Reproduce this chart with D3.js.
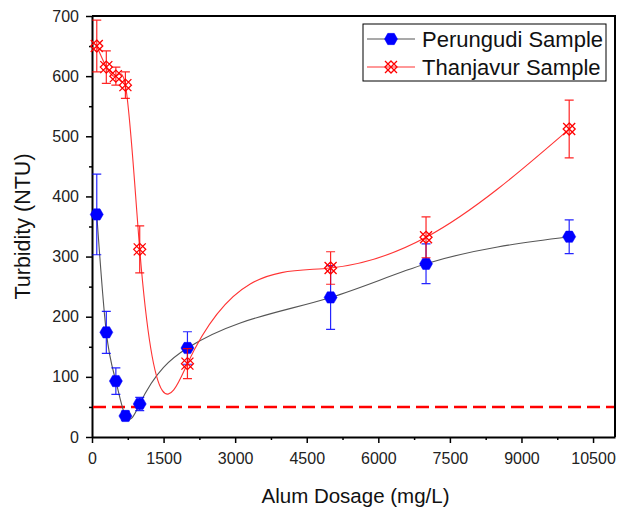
<!DOCTYPE html>
<html>
<head>
<meta charset="utf-8">
<script src="https://cdn.jsdelivr.net/npm/d3@7"></script>
<style>
  body { margin: 0; background: #fff; }
  svg { font-family: "Liberation Sans", Arial, sans-serif; }
</style>
</head>
<body>
<div id="chart"></div>
<script>
// alum dosage (mg/L)
const dosage = [100, 300, 500, 700, 1000, 2000, 5000, 7000, 10000];

// turbidity (NTU) and std errors
const perungudi = [370, 174, 93, 35, 55, 148, 232, 288, 333];
const perungudiErr = [67, 35, 22, 8, 11, 27, 53, 33, 28];
const thanjavur = [650, 615, 600, 585, 312, 122, 281, 332, 512];
const thanjavurErr = [43, 27, 15, 22, 39, 25, 27, 34, 48];

const xTicks = [0, 1500, 3000, 4500, 6000, 7500, 9000, 10500];
const yTicks = [0, 100, 200, 300, 400, 500, 600, 700];
const limitLine = 50;

const W = 618, H = 511;
const m = { top: 16, right: 3, bottom: 74, left: 92 };

const svg = d3.select('#chart').append('svg')
  .attr('width', W).attr('height', H);

const x = d3.scaleLinear().domain([0, 10960]).range([m.left, W - m.right]);
const y = d3.scaleLinear().domain([0, 700]).range([H - m.bottom, m.top]);

//natural cubic spline y(x), drawn as exact bezier segments
function SplineX(context) { this._context = context; }
SplineX.prototype = {
  areaStart() { this._line = 0; },
  areaEnd() { this._line = NaN; },
  lineStart() { this._px = []; this._py = []; },
  point(a, b) { this._px.push(+a); this._py.push(+b); },
  lineEnd() {
    const X = this._px, Y = this._py, n = X.length - 1, c = this._context;
    if (n < 1) return;
    const h = [], M = new Array(n + 1).fill(0);
    for (let i = 0; i < n; i++) h.push(X[i + 1] - X[i]);
    // tridiagonal solve
    const a = [], b = [], cc = [], r = [];
    for (let i = 1; i < n; i++) {
      a.push(h[i - 1]); b.push(2 * (h[i - 1] + h[i])); cc.push(h[i]);
      r.push(6 * ((Y[i + 1] - Y[i]) / h[i] - (Y[i] - Y[i - 1]) / h[i - 1]));
    }
    const k = r.length;
    for (let i = 1; i < k; i++) {
      const w = a[i] / b[i - 1];
      b[i] -= w * cc[i - 1];
      r[i] -= w * r[i - 1];
    }
    if (k > 0) {
      M[k] = r[k - 1] / b[k - 1];
      for (let i = k - 2; i >= 0; i--) M[i + 1] = (r[i] - cc[i] * M[i + 2]) / b[i];
    }
    const s = [];
    for (let i = 0; i < n; i++) s.push((Y[i + 1] - Y[i]) / h[i] - h[i] * (2 * M[i] + M[i + 1]) / 6);
    s.push((Y[n] - Y[n - 1]) / h[n - 1] + h[n - 1] * (M[n - 1] + 2 * M[n]) / 6);
    c.moveTo(X[0], Y[0]);
    for (let i = 0; i < n; i++) {
      const d = h[i] / 3;
      c.bezierCurveTo(X[i] + d, Y[i] + s[i] * d, X[i + 1] - d, Y[i + 1] - s[i + 1] * d, X[i + 1], Y[i + 1]);
    }
  }
};
const curveSplineX = (context) => new SplineX(context);

// axes
const xAxis = svg.append('g')
  .attr('transform', 'translate(0,' + y(0) + ')')
  .call(d3.axisBottom(x).tickValues(xTicks).tickSize(6).tickSizeOuter(0).tickFormat(d3.format('d')));
svg.append('g')
  .attr('transform', 'translate(0,' + y(0) + ')')
  .call(d3.axisBottom(x).tickValues(d3.range(750, 10960, 1500)).tickSize(3).tickFormat(''))
  .select('.domain').remove();

const yAxis = svg.append('g')
  .attr('transform', 'translate(' + x(0) + ',0)')
  .call(d3.axisLeft(y).tickValues(yTicks).tickSize(6).tickSizeOuter(0));
svg.append('g')
  .attr('transform', 'translate(' + x(0) + ',0)')
  .call(d3.axisLeft(y).tickValues(d3.range(50, 700, 100)).tickSize(3).tickFormat(''))
  .select('.domain').remove();

svg.selectAll('.tick line').attr('stroke', '#000').attr('stroke-width', 1.5);
svg.selectAll('.domain').attr('stroke', '#000').attr('stroke-width', 2);
xAxis.selectAll('text').style('font-size', '16px').attr('dy', '1.1em').attr('fill', '#222');
yAxis.selectAll('text').style('font-size', '16px').attr('dx', '-0.25em').attr('fill', '#222');

// top and right frame
svg.append('path')
  .attr('d', 'M' + x(0) + ',' + y(700) + 'H' + x(10960) + 'V' + y(0))
  .attr('fill', 'none').attr('stroke', '#000').attr('stroke-width', 2);

svg.append('text')
  .attr('x', (x(0) + x(10960)) / 2 + 2).attr('y', 503)
  .attr('text-anchor', 'middle').style('font-size', '20.5px').attr('fill', '#111')
  .text('Alum Dosage (mg/L)');

svg.append('text')
  .attr('transform', 'translate(30,' + ((y(0) + y(700)) / 2) + ') rotate(-90)')
  .attr('text-anchor', 'middle').style('font-size', '21.5px').attr('fill', '#111')
  .text('Turbidity (NTU)');

// limit line
svg.append('line')
  .attr('x1', x(0) + 1).attr('x2', x(10960) - 1)
  .attr('y1', y(limitLine)).attr('y2', y(limitLine))
  .attr('stroke', '#ff0000').attr('stroke-width', 2.5)
  .attr('stroke-dasharray', '13,6');

const hexagon = (r) => {
  const p = d3.range(6).map(i => [r * Math.cos(i * Math.PI / 3), r * Math.sin(i * Math.PI / 3)]);
  return 'M' + p.join('L') + 'Z';
};
const crossDiamond = (r) =>
  'M0,' + (-r) + 'L' + r + ',0L0,' + r + 'L' + (-r) + ',0Z' +
  'M' + (-r) + ',' + (-r) + 'L' + r + ',' + r + 'M' + r + ',' + (-r) + 'L' + (-r) + ',' + r;

const series = [
  { name: 'Perungudi Sample', vals: perungudi, err: perungudiErr, line: '#555555', color: '#0000ff', marker: 'hex' },
  { name: 'Thanjavur Sample', vals: thanjavur, err: thanjavurErr, line: '#ff3333', color: '#ff0000', marker: 'cross' }
];

const line = d3.line().x(d => x(d[0])).y(d => y(d[1])).curve(curveSplineX);

series.forEach(function (s) {
  const pts = dosage.map((d, i) => [d, s.vals[i], s.err[i]]);

  svg.append('path')
    .datum(pts)
    .attr('d', line)
    .attr('fill', 'none')
    .attr('stroke', s.line)
    .attr('stroke-width', 1.1);

  const eb = svg.append('g').attr('stroke', s.color).attr('stroke-width', 1.2).attr('opacity', 0.85);
  eb.selectAll('path')
    .data(pts)
    .join('path')
    .attr('d', d => {
      const cx = x(d[0]), t = y(d[1] + d[2]), b = y(d[1] - d[2]);
      return 'M' + (cx - 4.5) + ',' + t + 'H' + (cx + 4.5) + 'M' + cx + ',' + t + 'V' + b +
        'M' + (cx - 4.5) + ',' + b + 'H' + (cx + 4.5);
    });

  svg.append('g').selectAll('path')
    .data(pts)
    .join('path')
    .attr('transform', d => 'translate(' + x(d[0]) + ',' + y(d[1]) + ')')
    .attr('d', s.marker === 'hex' ? hexagon(6.5) : crossDiamond(6))
    .attr('fill', s.marker === 'hex' ? s.color : 'none')
    .attr('stroke', s.color)
    .attr('stroke-width', s.marker === 'hex' ? 0.5 : 1.3);
});

// legend
const lg = svg.append('g').attr('transform', 'translate(363,24)');
lg.append('rect')
  .attr('width', 243).attr('height', 57)
  .attr('fill', '#fff').attr('stroke', '#000').attr('stroke-width', 1);

series.forEach(function (s, i) {
  const cy = 15 + i * 28;
  lg.append('line')
    .attr('x1', 4).attr('x2', 52).attr('y1', cy).attr('y2', cy)
    .attr('stroke', s.line).attr('stroke-width', 1.1);
  lg.append('path')
    .attr('transform', 'translate(28,' + cy + ')')
    .attr('d', s.marker === 'hex' ? hexagon(6.5) : crossDiamond(6))
    .attr('fill', s.marker === 'hex' ? s.color : 'none')
    .attr('stroke', s.color)
    .attr('stroke-width', s.marker === 'hex' ? 0.5 : 1.3);
  lg.append('text')
    .attr('x', 59).attr('y', cy + 8)
    .style('font-size', '22px').attr('fill', '#111')
    .text(s.name);
});
</script>
</body>
</html>
